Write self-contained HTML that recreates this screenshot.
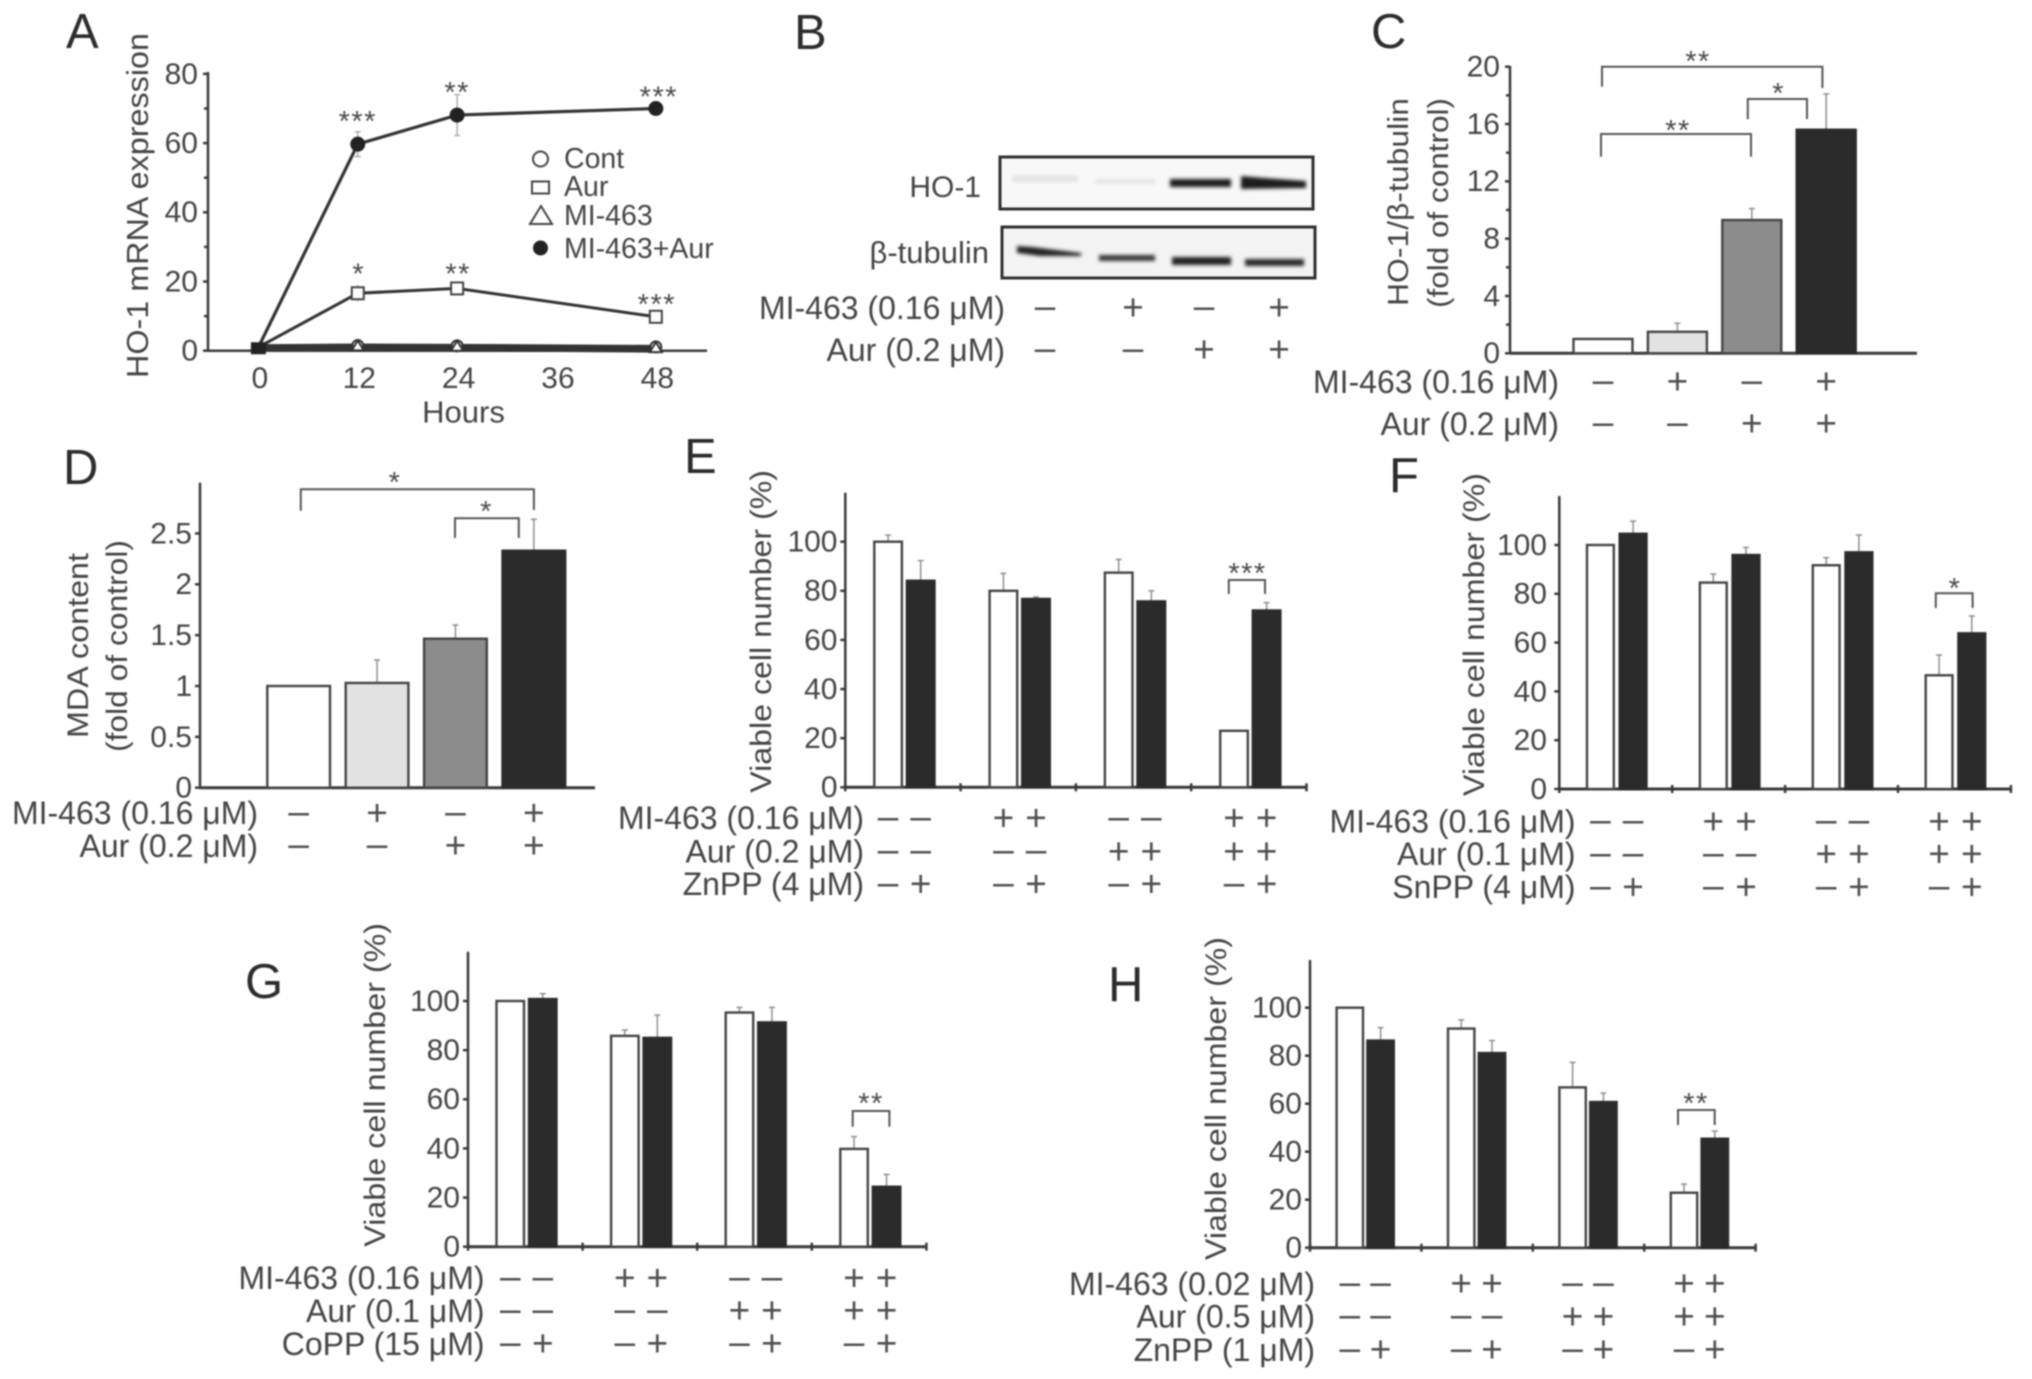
<!DOCTYPE html>
<html lang="en">
<head>
<meta charset="utf-8">
<title>HO-1 expression and cell viability panels</title>
<style>
html,body{margin:0;padding:0;background:#fff;width:2032px;height:1379px;overflow:hidden}
#figure{display:block;filter:blur(0.9px)}
text{font-family:"Liberation Sans","DejaVu Sans",sans-serif;fill:#444}
</style>
</head>
<body>
<svg id="figure" xmlns="http://www.w3.org/2000/svg" width="2032" height="1379" viewBox="0 0 2032 1379">
  <defs>
    <filter id="band-blur" x="-20%" y="-80%" width="140%" height="260%"><feGaussianBlur stdDeviation="1.8"/></filter>
  </defs>
  <rect width="2032" height="1379" fill="#fff"/>
  <g id="panel-a"></g>
  <g id="panel-b">
    <g>
      <rect x="1000" y="157" width="313" height="52" fill="#f8f8f8" stroke="#2f2f2f" stroke-width="3"/>
      <rect x="1012" y="176" width="66" height="6" fill="#e2e2e2" filter="url(#band-blur)"/>
      <rect x="1095" y="179" width="60" height="5" fill="#e4e4e4" filter="url(#band-blur)"/>
      <rect x="1170" y="179" width="61" height="8" fill="#1a1a1a" filter="url(#band-blur)"/>
      <polygon points="1241,176 1265,178 1306,181 1306,188 1241,189" fill="#1a1a1a" filter="url(#band-blur)"/>
    </g>
    <g>
      <rect x="1002" y="227" width="313" height="51" fill="#f3f3f3" stroke="#2f2f2f" stroke-width="3"/>
      <polygon points="1017,246 1032,247 1081,253 1081,256 1040,256 1017,253" fill="#222" filter="url(#band-blur)"/>
      <rect x="1099" y="255" width="56" height="6" fill="#383838" filter="url(#band-blur)"/>
      <rect x="1172" y="257" width="59" height="8" fill="#222" filter="url(#band-blur)"/>
      <rect x="1245" y="259" width="59" height="7" fill="#2c2c2c" filter="url(#band-blur)"/>
    </g>
  </g>
  <g id="panel-c"></g>
  <g id="panel-d"></g>
  <g id="panel-e"></g>
  <g id="panel-f"></g>
  <g id="panel-g"></g>
  <g id="panel-h"></g>
</svg>
<script>
/* ---------- Panel A data ---------- */
const hours = [0, 12, 24, 48];
const hourTicks = [0, 12, 24, 36, 48];
const mrnaTicks = [0, 20, 40, 60, 80];
const contValues = [1, 1.2, 1.1, 0.8];
const mi463Values = [1, 0.8, 0.7, 0.3];
const aurValues = [1, 16.6, 18, 9.8];
const comboValues = [1, 59.7, 68.1, 70];
const aurErrors = [0, 2.4, 0.8, 0.6];
const comboErrors = [0, 3.6, 5.9, 0.6];
const aurStars = ['', '*', '**', '***'];
const comboStars = ['', '***', '**', '***'];

/* ---------- Panel C data ---------- */
const cTicks = [0, 4, 8, 12, 16, 20];
const cValues = [1, 1.5, 9.3, 15.6];
const cErrors = [0, 0.6, 0.8, 2.5];

/* ---------- Panel D data ---------- */
const dTicks = [0, 0.5, 1, 1.5, 2, 2.5];
const dValues = [1, 1.03, 1.465, 2.33];
const dErrors = [0, 0.225, 0.135, 0.31];

/* ---------- Shared treatment tables ---------- */
const twoMi = ['-', '+', '-', '+'];
const twoAur = ['-', '-', '+', '+'];
const eightMi = ['-', '-', '+', '+', '-', '-', '+', '+'];
const eightAur = ['-', '-', '-', '-', '+', '+', '+', '+'];
const eightInhibitor = ['-', '+', '-', '+', '-', '+', '-', '+'];
const viabilityTicks = [0, 20, 40, 60, 80, 100];

/* ---------- Panel E data ---------- */
const eWhite = [100, 80, 87.4, 23];
const eWhiteErr = [2.7, 7.1, 5.4, 0];
const eDark = [84.1, 76.7, 75.7, 72];
const eDarkErr = [8.2, 0.8, 4.3, 3.2];

/* ---------- Panel F data ---------- */
const fWhite = [100, 84.6, 91.7, 46.6];
const fWhiteErr = [0, 3.5, 3.1, 8.3];
const fDark = [104.6, 95.9, 97, 63.8];
const fDarkErr = [5.2, 3.1, 7.1, 7.1];

/* ---------- Panel G data ---------- */
const gWhite = [100, 85.8, 95.3, 39.8];
const gWhiteErr = [0, 2.4, 2.1, 5];
const gDark = [100.8, 85, 91.3, 24.4];
const gDarkErr = [2.2, 9.3, 6.1, 5];

/* ---------- Panel H data ---------- */
const hWhite = [100, 91.3, 66.8, 22.9];
const hWhiteErr = [0, 3.6, 10.4, 3.6];
const hDark = [86.3, 81.1, 60.7, 45.4];
const hDarkErr = [5.4, 5.2, 3.7, 3.2];

/* ---------- Helpers ---------- */
const NS = 'http://www.w3.org/2000/svg';
const INK = '#3a3a3a';
const TICK_FS = 30;
const ROW_FS = 32;

function el(parent, tag, attrs, name, content) {
  const node = document.createElementNS(NS, tag);
  for (const k in attrs) node.setAttribute(k, attrs[k]);
  
  
  if (content !== undefined) node.textContent = content;
  parent.appendChild(node);
  return node;
}
function line(parent, x1, y1, x2, y2, name, stroke, width) {
  return el(parent, 'line', {x1: x1, y1: y1, x2: x2, y2: y2, stroke: stroke || INK, 'stroke-width': width || 2.5}, name);
}
function panelLetter(parent, letter, x, y) {
  el(parent, 'text', {x: x, y: y, 'font-size': 49, style: 'fill:#2c2c2c'}, 'panel-label-' + letter.toLowerCase(), letter);
}
function yTitle(parent, text, baselineX, y1, y2, name, fs) {
  const cy = (y1 + y2) / 2;
  el(parent, 'text', {
    x: baselineX, y: cy, 'font-size': fs || 30, 'text-anchor': 'middle',
    textLength: y2 - y1, lengthAdjust: 'spacingAndGlyphs',
    transform: 'rotate(-90 ' + baselineX + ' ' + cy + ')'
  }, name, text);
}
function stars(parent, text, x, cy) {
  const fs = 29;
  el(parent, 'text', {x: x, y: cy + fs * 0.52, 'font-size': fs, 'text-anchor': 'middle', 'letter-spacing': 1.5, style: 'fill:#4a4a4a'}, 'significance-stars', text);
}
function bracket(parent, x1, x2, y, legL, legR, text, sx, sy) {
  const g = el(parent, 'g', {}, 'significance-bracket');
  el(g, 'path', {d: 'M' + x1 + ' ' + legL + 'V' + y + 'H' + x2 + 'V' + legR, fill: 'none', stroke: '#555', 'stroke-width': 2}, 'bracket-line');
  stars(g, text, sx, sy);
}
function yAxis(parent, opts) {
  const g = el(parent, 'g', {}, 'y-axis');
  const y = v => opts.y0 - v * opts.unit;
  line(g, opts.x, opts.top, opts.x, opts.y0 + 1, 'y-axis-line');
  opts.ticks.forEach(t => {
    line(g, opts.x - 5, y(t), opts.x, y(t), 'y-tick');
    el(g, 'text', {x: opts.labelX, y: y(t) + TICK_FS * 0.33, 'font-size': TICK_FS, 'text-anchor': 'end'}, 'y-tick-label', String(t));
  });
  if (opts.minor) {
    opts.ticks.slice(0, -1).forEach(t => {
      line(g, opts.x - 4, y(t + opts.minor), opts.x, y(t + opts.minor), 'y-minor-tick');
    });
  }
  return y;
}
function errorBar(parent, x, vTop, errTop) {
  line(parent, x, vTop, x, errTop, 'error-bar', '#8f8f8f', 1.5);
  line(parent, x - 3, errTop, x + 3, errTop, 'error-cap', '#8f8f8f', 1.5);
}
function bar(parent, x, w, y0, yTop, fill, name) {
  el(parent, 'rect', {x: x, y: yTop, width: w, height: y0 - yTop, fill: fill, stroke: fill === '#2b2b2b' ? '#2b2b2b' : '#444', 'stroke-width': 2.4}, name);
}
function row(parent, labelText, symbols, xFn, cy, labelRight) {
  const g = el(parent, 'g', {}, 'treatment-row');
  el(g, 'text', {x: labelRight, y: cy + ROW_FS * 0.34, 'font-size': ROW_FS, 'text-anchor': 'end'}, 'treatment-label', labelText);
  symbols.forEach((s, i) => {
    const txt = s === '+' ? '+' : '\u2013';
    const fs = 37;
    el(g, 'text', {x: xFn(i), y: cy + fs * (s === '+' ? 0.33 : 0.27), 'font-size': fs, 'text-anchor': 'middle', style: 'fill:#505050'}, s === '+' ? 'treatment-plus' : 'treatment-minus', txt);
  });
}

function groupedPanel(parent, o) {
  const y = yAxis(parent, {x: o.x, y0: o.y0, top: o.top, unit: o.unit, ticks: viabilityTicks, labelX: o.labelX});
  const axisEnd = o.x + o.groupW * o.white.length;
  const gx = el(parent, 'g', {}, 'x-axis');
  line(gx, o.x, o.y0, axisEnd, o.y0, 'x-axis-line', INK, 3);
  for (let i = 0; i <= o.white.length; i++) {
    const tx = o.x + i * o.groupW;
    line(gx, tx, o.y0 - 4, tx, o.y0 + 4, 'x-group-tick', INK, 2.5);
  }
  const whiteX = i => o.x + i * o.groupW + o.off1;
  const darkX = i => o.x + i * o.groupW + o.off2;
  o.white.forEach((v, i) => {
    const g = el(parent, 'g', {}, 'bar-group-' + (i + 1));
    if (o.whiteErr[i] > 0) errorBar(g, whiteX(i) + o.barW / 2, y(v), y(v + o.whiteErr[i]));
    if (o.darkErr[i] > 0) errorBar(g, darkX(i) + o.barW / 2, y(o.dark[i]), y(o.dark[i] + o.darkErr[i]));
    bar(g, whiteX(i), o.barW, o.y0, y(v), '#ffffff', 'bar-control');
    bar(g, darkX(i), o.barW, o.y0, y(o.dark[i]), '#2b2b2b', 'bar-inhibitor');
  });
  const symX = k => (k % 2 === 0 ? whiteX(k / 2) : darkX((k - 1) / 2)) + o.barW / 2;
  o.rows.forEach(r => row(parent, r[0], r[1], symX, r[2], o.rowRight));
}

function fourBarPanel(parent, o) {
  const y = yAxis(parent, {x: o.x, y0: o.y0, top: o.top, unit: o.unit, ticks: o.ticks, labelX: o.labelX, minor: o.minor});
  line(parent, o.x, o.y0, o.xEnd, o.y0, 'x-axis-line', INK, 3);
  const barX = i => o.start + i * o.step;
  const fills = ['#ffffff', '#e2e2e2', '#8c8c8c', '#2b2b2b'];
  const names = ['bar-control', 'bar-mi463', 'bar-aur', 'bar-combination'];
  o.values.forEach((v, i) => {
    if (o.errors[i] > 0) errorBar(parent, barX(i) + o.barW / 2, y(v), y(v + o.errors[i]));
    bar(parent, barX(i), o.barW, o.y0, y(v), fills[i], names[i]);
  });
  const symX = i => barX(i) + o.barW / 2;
  o.rows.forEach(r => row(parent, r[0], r[1], symX, r[2], o.rowRight));
}

/* ---------- Panel A ---------- */
(function () {
  const p = document.getElementById('panel-a');
  panelLetter(p, 'A', 66, 48);
  yTitle(p, 'HO-1 mRNA expression', 148, 33, 378, 'y-axis-title', 31);
  const x0 = 258.4, pxPerHour = 8.28, y0 = 350.7, unit = 3.46;
  const X = h => x0 + h * pxPerHour;
  const Y = yAxis(p, {x: 208, y0: y0, top: 72, unit: unit, ticks: mrnaTicks, labelX: 198, minor: 10});
  line(p, 208, y0, 707, y0, 'x-axis-line', INK, 2.5);
  hourTicks.forEach(h => {
    line(p, X(h), y0 - 4, X(h), y0, 'x-tick', INK, 2);
    el(p, 'text', {x: X(h) + 1.5, y: 377.5 + TICK_FS * 0.35, 'font-size': TICK_FS, 'text-anchor': 'middle'}, 'x-tick-label', String(h));
  });
  el(p, 'text', {x: 463.5, y: 422.5, 'font-size': 31, 'text-anchor': 'middle'}, 'x-axis-title', 'Hours');

  function series(values, name, width) {
    const pts = hours.map((h, i) => X(h) + ',' + Y(values[i])).join(' ');
    el(p, 'polyline', {points: pts, fill: 'none', stroke: '#333', 'stroke-width': width}, name);
  }
  hours.forEach((h, i) => {
    if (comboErrors[i] > 0) {
      line(p, X(h), Y(comboValues[i] - comboErrors[i]), X(h), Y(comboValues[i] + comboErrors[i]), 'error-bar', '#aaa', 1.4);
      line(p, X(h) - 3, Y(comboValues[i] + comboErrors[i]), X(h) + 3, Y(comboValues[i] + comboErrors[i]), 'error-cap', '#aaa', 1.4);
      line(p, X(h) - 3, Y(comboValues[i] - comboErrors[i]), X(h) + 3, Y(comboValues[i] - comboErrors[i]), 'error-cap', '#aaa', 1.4);
    }
    if (aurErrors[i] > 0) {
      line(p, X(h), Y(aurValues[i] - aurErrors[i]), X(h), Y(aurValues[i] + aurErrors[i]), 'error-bar', '#aaa', 1.4);
    }
  });
  series(contValues, 'line-cont', 6);
  series(mi463Values, 'line-mi463', 6);
  series(aurValues, 'line-aur', 3);
  series(comboValues, 'line-mi463-aur', 3.2);

  hours.forEach((h, i) => {
    if (i > 0) {
      el(p, 'circle', {cx: X(h), cy: Y(contValues[i]) - 1, r: 5.5, fill: '#fff', stroke: '#333', 'stroke-width': 2}, 'marker-cont');
      el(p, 'polygon', {
        points: (X(h) - 6) + ',' + (Y(mi463Values[i]) + 2.5) + ' ' + (X(h) + 6) + ',' + (Y(mi463Values[i]) + 2.5) + ' ' + X(h) + ',' + (Y(mi463Values[i]) - 7.5),
        fill: '#fff', stroke: '#333', 'stroke-width': 2
      }, 'marker-mi463');
      const ms = 6;
      el(p, 'rect', {x: X(h) - ms, y: Y(aurValues[i]) - ms, width: ms * 2, height: ms * 2, fill: '#fff', stroke: '#444', 'stroke-width': 2}, 'marker-aur');
      el(p, 'circle', {cx: X(h), cy: Y(comboValues[i]), r: 7, fill: '#222', stroke: '#222'}, 'marker-mi463-aur');
    } else {
      el(p, 'rect', {x: X(h) - 7.5, y: Y(comboValues[i]) - 5, width: 15, height: 12, fill: '#222'}, 'markers-overlap-at-zero');
    }
    if (aurStars[i]) stars(p, aurStars[i], X(h) + 1, Y(aurValues[i]) - (i === 3 ? 18 : (i === 2 ? 20 : 25)));
    if (comboStars[i]) stars(p, comboStars[i], X(h) + (i === 3 ? 3 : 0), Y(comboValues[i]) - (i === 3 ? 17 : 28));
  });

  const leg = el(p, 'g', {}, 'legend');
  const legendFs = 28.5;
  const e1 = el(leg, 'g', {}, 'legend-entry-cont');
  el(e1, 'circle', {cx: 540.5, cy: 159, r: 7.5, fill: '#fff', stroke: '#444', 'stroke-width': 2}, 'legend-marker-cont');
  el(e1, 'text', {x: 564, y: 168, 'font-size': legendFs}, 'legend-label-cont', 'Cont');
  const e2 = el(leg, 'g', {}, 'legend-entry-aur');
  el(e2, 'rect', {x: 532, y: 181.5, width: 17, height: 12, fill: '#fff', stroke: '#444', 'stroke-width': 2}, 'legend-marker-aur');
  el(e2, 'text', {x: 564, y: 196, 'font-size': legendFs}, 'legend-label-aur', 'Aur');
  const e3 = el(leg, 'g', {}, 'legend-entry-mi463');
  el(e3, 'polygon', {points: '530,224 552,224 541,206', fill: '#fff', stroke: '#444', 'stroke-width': 2}, 'legend-marker-mi463');
  el(e3, 'text', {x: 564, y: 225, 'font-size': legendFs}, 'legend-label-mi463', 'MI-463');
  const e4 = el(leg, 'g', {}, 'legend-entry-mi463-aur');
  el(e4, 'circle', {cx: 540.5, cy: 248, r: 7.5, fill: '#222'}, 'legend-marker-mi463-aur');
  el(e4, 'text', {x: 564, y: 258, 'font-size': legendFs}, 'legend-label-mi463-aur', 'MI-463+Aur');
})();

/* ---------- Panel B labels ---------- */
(function () {
  const p = document.getElementById('panel-b');
  panelLetter(p, 'B', 794, 49);
  el(p, 'text', {x: 981, y: 197, 'font-size': 30, 'text-anchor': 'end'}, 'blot-label-ho1', 'HO-1');
  el(p, 'text', {x: 989, y: 263, 'font-size': 31, 'text-anchor': 'end'}, 'blot-label-tubulin', '\u03b2-tubulin');
  const topX = i => 1045 + [0, 88, 159, 234][i];
  row(p, 'MI-463 (0.16 \u03bcM)', twoMi, topX, 308, 1005);
  row(p, 'Aur (0.2 \u03bcM)', twoAur, topX, 350, 1005);
})();

/* ---------- Panel C ---------- */
(function () {
  const p = document.getElementById('panel-c');
  panelLetter(p, 'C', 1371, 48);
  yTitle(p, 'HO-1/\u03b2-tubulin', 1408, 98, 306, 'y-axis-title', 29);
  yTitle(p, '(fold of control)', 1448, 98, 308, 'y-axis-subtitle', 29);
  fourBarPanel(p, {
    x: 1510, y0: 353.3, top: 66, unit: 14.33, ticks: cTicks, minor: 2, labelX: 1500, xEnd: 1917,
    start: 1573.5, step: 74.4, barW: 59, values: cValues, errors: cErrors, rowRight: 1559,
    rows: [['MI-463 (0.16 \u03bcM)', twoMi, 382], ['Aur (0.2 \u03bcM)', twoAur, 424]]
  });
  bracket(p, 1602, 1822.4, 66.7, 86.7, 88, '**', 1698, 56);
  bracket(p, 1747.8, 1807, 99, 119.3, 119, '*', 1778.7, 88);
  bracket(p, 1601, 1751, 134, 156.7, 156.7, '**', 1678, 125);
})();

/* ---------- Panel D ---------- */
(function () {
  const p = document.getElementById('panel-d');
  panelLetter(p, 'D', 63, 484);
  yTitle(p, 'MDA content', 88, 553, 738, 'y-axis-title', 30);
  yTitle(p, '(fold of control)', 127, 540, 752, 'y-axis-subtitle', 30);
  fourBarPanel(p, {
    x: 200, y0: 787.7, top: 482.7, unit: 101.7, ticks: dTicks, labelX: 192, xEnd: 595,
    start: 267.3, step: 78.4, barW: 62.7, values: dValues, errors: dErrors, rowRight: 258,
    rows: [['MI-463 (0.16 \u03bcM)', twoMi, 813.3], ['Aur (0.2 \u03bcM)', twoAur, 846]]
  });
  bracket(p, 300.8, 533.9, 489.3, 510.7, 510, '*', 395, 476.7);
  bracket(p, 455, 518.8, 518.3, 538, 538, '*', 486.5, 506);
})();

/* ---------- Panel E ---------- */
(function () {
  const p = document.getElementById('panel-e');
  panelLetter(p, 'E', 684, 473);
  yTitle(p, 'Viable cell number (%)', 771, 470, 792.7, 'y-axis-title', 30);
  groupedPanel(p, {
    x: 845.3, y0: 787.3, top: 492.7, unit: 2.456, groupW: 115.3, off1: 29, off2: 61.6, barW: 27.6, labelX: 837.5,
    white: eWhite, whiteErr: eWhiteErr, dark: eDark, darkErr: eDarkErr, rowRight: 864,
    rows: [['MI-463 (0.16 \u03bcM)', eightMi, 818.3], ['Aur (0.2 \u03bcM)', eightAur, 851.7], ['ZnPP (4 \u03bcM)', eightInhibitor, 884.3]]
  });
  bracket(p, 1228.8, 1265, 580, 594, 594, '***', 1247.5, 567.7);
})();

/* ---------- Panel F ---------- */
(function () {
  const p = document.getElementById('panel-f');
  panelLetter(p, 'F', 1389, 492);
  yTitle(p, 'Viable cell number (%)', 1484, 473, 796, 'y-axis-title', 30);
  groupedPanel(p, {
    x: 1559.3, y0: 789, top: 496, unit: 2.44, groupW: 112.9, off1: 27.7, off2: 60.4, barW: 26.8, labelX: 1547,
    white: fWhite, whiteErr: fWhiteErr, dark: fDark, darkErr: fDarkErr, rowRight: 1575.5,
    rows: [['MI-463 (0.16 \u03bcM)', eightMi, 821.7], ['Aur (0.1 \u03bcM)', eightAur, 854.3], ['SnPP (4 \u03bcM)', eightInhibitor, 887.3]]
  });
  bracket(p, 1935.8, 1972.6, 593.3, 608, 608, '*', 1955, 583);
})();

/* ---------- Panel G ---------- */
(function () {
  const p = document.getElementById('panel-g');
  panelLetter(p, 'G', 245, 998);
  yTitle(p, 'Viable cell number (%)', 385, 923, 1246.7, 'y-axis-title', 30);
  groupedPanel(p, {
    x: 468, y0: 1246.7, top: 951.7, unit: 2.457, groupW: 114.6, off1: 28.5, off2: 61, barW: 27.5, labelX: 460,
    white: gWhite, whiteErr: gWhiteErr, dark: gDark, darkErr: gDarkErr, rowRight: 484.5,
    rows: [['MI-463 (0.16 \u03bcM)', eightMi, 1278.3], ['Aur (0.1 \u03bcM)', eightAur, 1311], ['CoPP (15 \u03bcM)', eightInhibitor, 1344]]
  });
  bracket(p, 852.7, 889.4, 1111, 1126.7, 1126.7, '**', 871, 1098);
})();

/* ---------- Panel H ---------- */
(function () {
  const p = document.getElementById('panel-h');
  panelLetter(p, 'H', 1108, 1001);
  yTitle(p, 'Viable cell number (%)', 1226, 937, 1260, 'y-axis-title', 30);
  groupedPanel(p, {
    x: 1310, y0: 1247.7, top: 960, unit: 2.4, groupW: 111.4, off1: 26.6, off2: 57.4, barW: 26.4, labelX: 1302,
    white: hWhite, whiteErr: hWhiteErr, dark: hDark, darkErr: hDarkErr, rowRight: 1315,
    rows: [['MI-463 (0.02 \u03bcM)', eightMi, 1284], ['Aur (0.5 \u03bcM)', eightAur, 1316.7], ['ZnPP (1 \u03bcM)', eightInhibitor, 1350]]
  });
  bracket(p, 1678, 1714.7, 1110, 1125, 1125, '**', 1696, 1097.7);
})();
</script>
</body>
</html>
